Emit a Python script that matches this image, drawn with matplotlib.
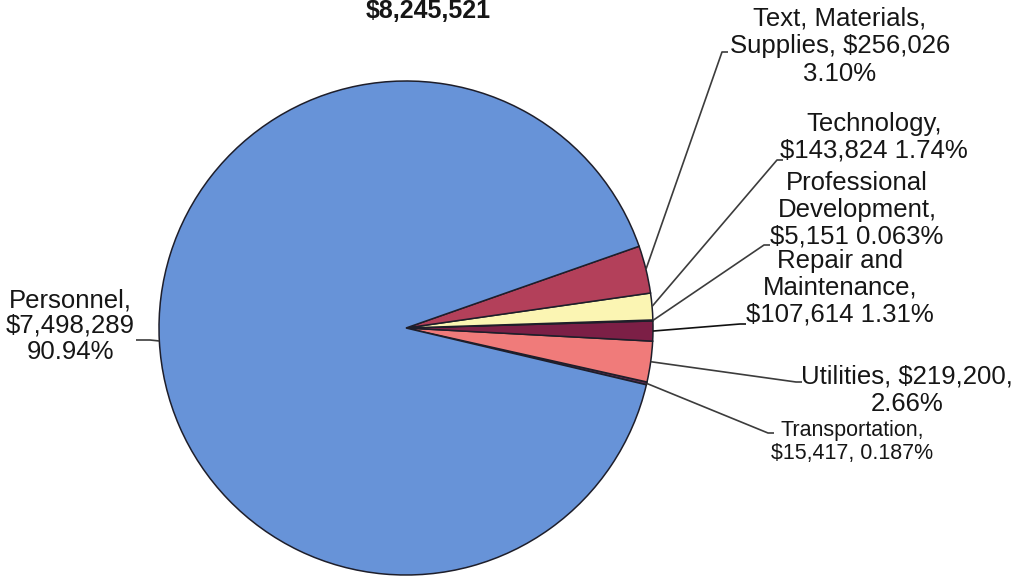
import matplotlib
matplotlib.use("Agg")
import matplotlib.pyplot as plt
import numpy as np

plt.rcParams['font.family'] = ['Liberation Sans', 'DejaVu Sans']

# budget categories, in pie order (counter-clockwise from lower right)
categories = ['Transportation', 'Utilities', 'Repair and Maintenance',
              'Professional Development', 'Technology',
              'Text, Materials, Supplies', 'Personnel']
amounts = [15417, 219200, 107614, 5151, 143824, 256026, 7498289]
colors = ['#5b2c4e', '#f07b7a', '#7c1f46', '#3a2a30', '#fbf5b3',
          '#b3405a', '#6793d8']
total_label = '$8,245,521'

labels = [
    'Transportation,\n$15,417, 0.187%',
    'Utilities, $219,200,\n2.66%',
    'Repair and\nMaintenance,\n$107,614 1.31%',
    'Professional\nDevelopment,\n$5,151 0.063%',
    'Technology,\n$143,824 1.74%',
    'Text, Materials,\nSupplies, $256,026\n3.10%',
    'Personnel,\n$7,498,289\n90.94%',
]

W, H = 1016, 579


def py(y):
    # pixel row (from top) -> data y
    return H - y


def main():
    fig = plt.figure(figsize=(W / 100, H / 100), dpi=100)
    ax = fig.add_axes([0, 0, 1, 1])

    cx, cy, r = 406, py(328), 247
    wedges, _ = ax.pie(amounts, colors=colors, startangle=-13.3,
                       counterclock=True, center=(cx, cy), radius=r,
                       wedgeprops=dict(edgecolor='#1e1e2a', linewidth=1.1))
    ax.set_xlim(0, W)
    ax.set_ylim(0, H)
    ax.set_aspect('equal')
    ax.axis('off')

    # label layout: (text x, text y, elbow x, elbow y, end x, font size, line spacing, line colour)
    layout = [
        (852, 442, 768, 433, 774, 15.5, 1.15, '#3c3c3c'),
        (907, 390, 796, 382, 802, 18.5, 1.2, '#3c3c3c'),
        (840, 288, 740, 324, 746, 18.5, 1.15, '#111111'),
        (857, 210, 764, 245, 770, 18.5, 1.15, '#3c3c3c'),
        (874, 137, 777, 160, 783, 18.5, 1.15, '#3c3c3c'),
        (840, 46, 722, 52, 728, 18.5, 1.2, '#3c3c3c'),
        (70, 326, 150, 340, 136, 18.5, 1.1, '#3c3c3c'),
    ]

    for w, lab, (tx, ty, ex, ey, endx, fs, ls, lc) in zip(wedges, labels, layout):
        mid = np.deg2rad((w.theta1 + w.theta2) / 2)
        sx = cx + r * np.cos(mid)
        sy = cy + r * np.sin(mid)
        ax.plot([sx, ex, endx], [sy, py(ey), py(ey)], color=lc, lw=1.2,
                solid_capstyle='butt')
        ax.text(tx, py(ty), lab, ha='center', va='center', fontsize=fs,
                linespacing=ls, color='#161616', multialignment='center')

    ax.text(428, py(11), total_label, ha='center', va='center',
            fontsize=18, fontweight='bold', color='#161616')

    fig.savefig('out.png', dpi=100)


if __name__ == "__main__":
    main()
